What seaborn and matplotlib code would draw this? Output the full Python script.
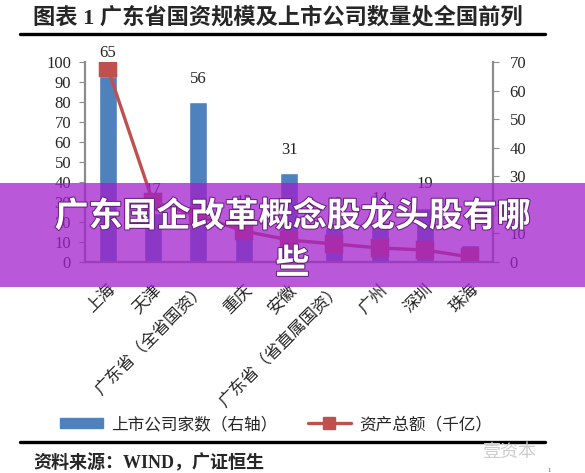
import matplotlib
matplotlib.use("Agg")
import matplotlib.pyplot as plt
import matplotlib.patheffects as pe
from matplotlib.patches import Rectangle, Patch
from matplotlib.lines import Line2D
import seaborn as sns

# values
cities = ["上海", "天津", "广东省（全省国资）", "重庆", "安徽",
          "广东省（省直属国资）", "广州", "深圳", "珠海"]
companies = [65, 17, 56, 13, 31, 12, 14, 19, 6]        # 上市公司家数 (right axis)
assets = [97, 30, 23, 15.5, 11, 9, 7, 6, 2.5]           # 资产总额 千亿 (left axis)
left_ticks = list(range(0, 101, 10))
right_ticks = list(range(0, 71, 10))

title = "图表 1 广东省国资规模及上市公司数量处全国前列"
source = "资料来源：WIND，广证恒生"
banner_1 = "广东国企改革概念股龙头股有哪"
banner_2 = "些"

bar_color = "#4F81BD"
line_color = "#C0504D"
spine_gray = "#8c8c8c"

sns.set_style("white")
plt.rcParams["font.family"] = ["Liberation Serif", "Noto Sans CJK SC"]

W, H = 585, 473
fig = plt.figure(figsize=(W / 100, H / 100), dpi=100)
ax = fig.add_axes([85 / W, 1 - 262 / H, 408 / W, 200 / H])
ax2 = ax.twinx()

# bars on the right axis
sns.barplot(x=cities, y=companies, ax=ax2, color=bar_color, width=0.4,
            saturation=1)
ax2.bar_label(ax2.containers[0], padding=11, fontsize=12, color="#222222")

# line on the left axis, drawn on top
sns.pointplot(x=cities, y=assets, ax=ax, color=line_color, markers="s",
              markersize=11, linewidth=2.4, errorbar=None)
ax.set_zorder(ax2.get_zorder() + 1)
ax.patch.set_visible(False)

ax.set_xlim(-0.5, len(cities) - 0.5)
ax.set_ylim(0, 100)
ax2.set_ylim(0, 70)
ax.set_yticks(left_ticks)
ax2.set_yticks(right_ticks)
ax.set_xticks(range(len(cities)))
ax.set_xticklabels(cities, rotation=45, ha="right", va="top",
                   rotation_mode="anchor", fontsize=12)
ax.set_xticks([i - 0.5 for i in range(len(cities) + 1)], minor=True)
ax.tick_params(axis="x", which="major", length=0, pad=14)
ax.tick_params(axis="x", which="minor", length=4, color=spine_gray, width=1)
ax.tick_params(axis="y", length=4, color=spine_gray, labelsize=12, pad=6)
ax2.tick_params(axis="y", length=4, color=spine_gray, labelsize=12, pad=8)
for a in (ax, ax2):
    a.set_xlabel("")
    a.set_ylabel("")
    a.spines["top"].set_visible(False)
    for s in ("left", "right", "bottom"):
        a.spines[s].set_color(spine_gray)
        a.spines[s].set_linewidth(1.6)
ax.spines["right"].set_visible(False)
ax2.spines["left"].set_visible(False)
ax2.spines["bottom"].set_visible(False)

# legend below the plot
handles = [Patch(color=bar_color),
           Line2D([], [], color=line_color, lw=2.4, marker="s", markersize=8)]
fig.legend(handles, ["上市公司家数（右轴）", "资产总额（千亿）"], loc="center",
           bbox_to_anchor=(276 / W, 1 - 425 / H), ncol=2, frameon=False,
           fontsize=12, handlelength=2.6, handleheight=0.6,
           handletextpad=0.5, columnspacing=1.8)

# title, rules, source
fig.text(33 / W, 1 - 18 / H, title, fontsize=16, weight="bold", va="center")
fig.add_artist(Line2D([20 / W, 545 / W], [1 - 34 / H] * 2, color="black", lw=2.4))
fig.add_artist(Line2D([20 / W, 545 / W], [1 - 442 / H] * 2, color="black", lw=2.4))
fig.text(33 / W, 1 - 463 / H, source, fontsize=13, weight="bold", va="center")
fig.text(482 / W, 1 - 452 / H, "壹资本", fontsize=13, color="#cccccc", va="center")
fig.text(547 / W, 1 - 470 / H, "1", fontsize=5, color="#555555", va="center")

# purple banner across the chart
fig.add_artist(Rectangle((0, 1 - 287 / H), 1, 104 / H, transform=fig.transFigure,
                         facecolor=(162 / 255, 32 / 255, 203 / 255), alpha=0.75,
                         edgecolor="none", zorder=10))
shadow = [pe.withStroke(linewidth=1.5, foreground="#6a1f80")]
fig.text(0.5, 1 - 216 / H, banner_1, fontsize=24.5, weight="bold", color="white",
         ha="center", va="center", family=["Noto Sans CJK SC"], zorder=11,
         path_effects=shadow)
fig.text(0.5, 1 - 263 / H, banner_2, fontsize=24.5, weight="bold", color="white",
         ha="center", va="center", family=["Noto Sans CJK SC"], zorder=11,
         path_effects=shadow)

fig.savefig("out.png", dpi=100)
